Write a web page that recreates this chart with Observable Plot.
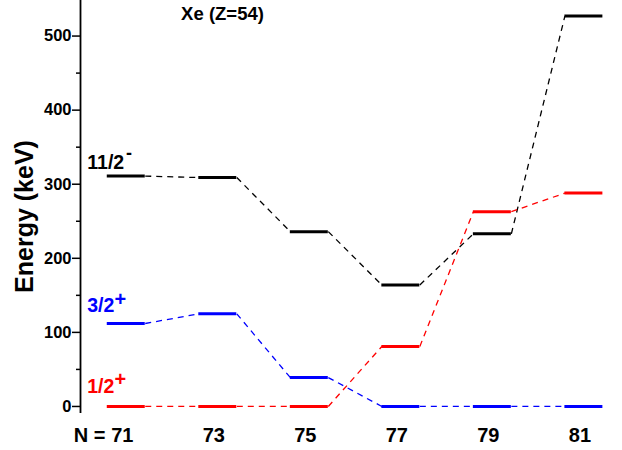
<!DOCTYPE html>
<html><head><meta charset="utf-8">
<script src="https://cdn.jsdelivr.net/npm/d3@7"></script>
<script src="https://cdn.jsdelivr.net/npm/@observablehq/plot@0.6"></script>
<style>body{margin:0;background:#fff}</style>
</head><body><div id="chart"></div>
<script>
// ---- data ----
const neutrons = [71, 73, 75, 77, 79, 81];
const level11_2 = [311, 309, 236, 164, 233, 527];
const level3_2 = [112, 125, 39, 0, 0, 0];
const level1_2 = [0, 0, 0, 81, 263, 288];
const seriesNames = ["11/2", "3/2", "1/2"];
const seriesParity = ["-", "+", "+"];
const yTicks = [0, 100, 200, 300, 400, 500];
const yMinorTicks = [50, 150, 250, 350, 450];
const xTickLabels = ["71", "73", "75", "77", "79", "81"];
const xPrefix = "N =";
const titleText = "Xe (Z=54)";
const yLabelText = "Energy (keV)";

// ---- styles / layout ----
const colors = ["#000000", "#0000ff", "#ff0000"];
const labelDy = [-7.3, -11.1, -13.4];
const supDy = [-17.5, -17.7, -20.9];
const supDx = [-0.2, -5.8, -5.8];
const supSize = [18, 20, 20];
const halfWidth = 0.415;
const xDomain = [70, 81.8];
const yDomain = [-9.5, 548];
const font = "'Liberation Sans', Arial, Helvetica, sans-serif";

const series = [level11_2, level3_2, level1_2].map((vals, s) => ({
  name: seriesNames[s], sup: seriesParity[s], color: colors[s], vals, s
}));
const levels = series.flatMap(sr => sr.vals.map((e, i) => ({N: neutrons[i], E: e, color: sr.color})));
const links = series.flatMap(sr => sr.vals.slice(1).map((e, i) => ({
  x1: neutrons[i] + halfWidth, y1: sr.vals[i],
  x2: neutrons[i + 1] - halfWidth, y2: e, color: sr.color
})));

const labelMarks = series.flatMap(sr => [
  Plot.text([sr], {x: () => neutrons[0], y: d => d.vals[0], text: "name", fill: sr.color,
    textAnchor: "start", lineAnchor: "bottom", dx: -39, dy: labelDy[sr.s],
    fontSize: 19.5, fontWeight: "bold"}),
  Plot.text([sr], {x: () => neutrons[0], y: d => d.vals[0], text: "sup", fill: sr.color,
    textAnchor: sr.sup === "-" ? "start" : "middle", lineAnchor: "bottom",
    dx: supDx[sr.s], dy: supDy[sr.s],
    fontSize: supSize[sr.s], fontWeight: "bold"})
]);

const chart = Plot.plot({
  width: 622, height: 450,
  marginLeft: 80, marginRight: 2, marginTop: 0, marginBottom: 37,
  style: {fontFamily: font, background: "#fff", color: "#000"},
  x: {domain: xDomain, axis: null},
  y: {domain: yDomain, axis: null, label: null},
  marks: [
    Plot.ruleX([xDomain[0]], {stroke: "#000", strokeWidth: 1.8}),
    Plot.axisY(yTicks, {tickSize: 8, tickPadding: 1, fontSize: 16.5, fontWeight: "bold",
      strokeWidth: 1.5, label: null, anchor: "left"}),
    Plot.axisY(yMinorTicks, {tickSize: 4, strokeWidth: 1.5, tickFormat: () => "", label: null, anchor: "left"}),
    Plot.link(links, {x1: "x1", y1: "y1", x2: "x2", y2: "y2", stroke: "color",
      strokeWidth: 1.3, strokeDasharray: "6,5"}),
    Plot.ruleY(levels, {x1: d => d.N - halfWidth, x2: d => d.N + halfWidth, y: "E",
      stroke: "color", strokeWidth: 3}),
    ...labelMarks,
    Plot.text(neutrons, {x: d => d, text: (d, i) => xTickLabels[i], frameAnchor: "bottom",
      lineAnchor: "bottom", dy: 28.7, dx: -4, fontSize: 20, fontWeight: "bold"}),
    Plot.text([neutrons[0]], {x: d => d, text: () => xPrefix, frameAnchor: "bottom",
      lineAnchor: "bottom", textAnchor: "end", dy: 28.7, dx: -20.8, fontSize: 20, fontWeight: "bold"}),
    Plot.text([titleText], {frameAnchor: "top-left", text: d => d, dx: 142, dy: 19.5,
      lineAnchor: "bottom", textAnchor: "middle", fontSize: 18.5, fontWeight: "bold"}),
    Plot.text([yLabelText], {frameAnchor: "left", text: d => d, rotate: -90, dx: -48, dy: 9.5,
      lineAnchor: "bottom", textAnchor: "middle", fontSize: 25, fontWeight: "bold"})
  ]
});
document.getElementById("chart").appendChild(chart);
</script>
</body></html>
